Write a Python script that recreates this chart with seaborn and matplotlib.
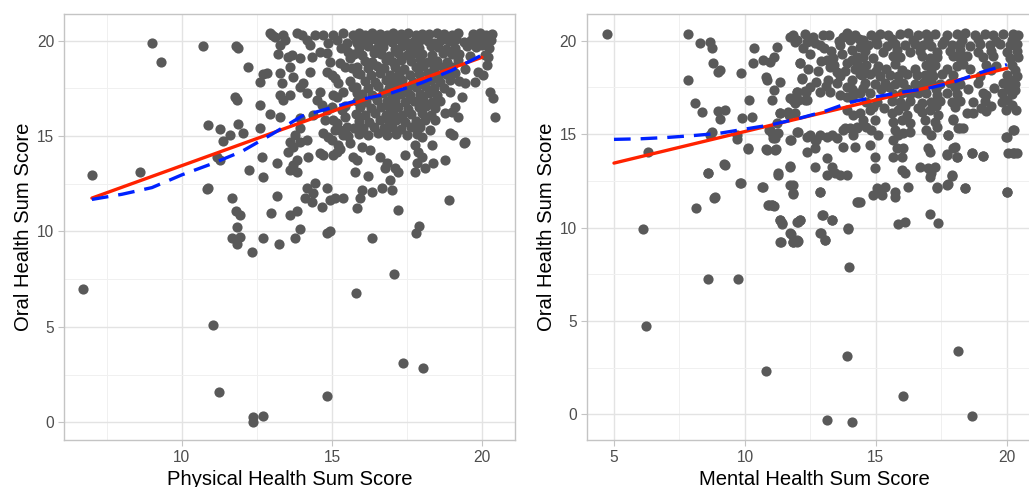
import matplotlib
matplotlib.use("Agg")
import matplotlib.pyplot as plt
import pandas as pd
import seaborn as sns

# ---------------- Physical health vs oral health ----------------
phys_sparse_x = [
    6.7, 7.0, 8.6, 9.0, 9.3, 10.71, 10.82, 10.86, 10.88, 11.05, 11.25, 11.16, 11.27, 11.27, 11.38, 11.6, 11.66, 11.66, 11.8, 11.86,
    11.77, 11.82, 11.88, 11.8, 11.93, 11.84, 11.93, 11.82, 12.04, 12.21, 12.24, 12.34, 12.38, 12.38, 12.71, 12.6, 12.6, 12.6, 12.66, 12.71,
    12.71, 12.82, 12.71, 12.93, 12.97, 13.16, 13.16, 13.23, 13.27, 14.82, 15.8, 17.08, 17.37, 18.02, 17.91, 17.8, 18.9, 19.41, 20.43, 16.33,
    17.2, 15.82, 15.93, 15.99, 16.32, 16.66, 16.99, 16.93,
]
phys_sparse_y = [
    7.0, 12.95, 13.1, 19.9, 18.9, 19.72, 12.21, 12.3, 15.58, 5.1, 1.6, 13.92, 13.75, 15.37, 14.76, 15.06, 11.74, 9.64, 19.72, 19.62,
    17.07, 16.89, 15.61, 11.07, 10.86, 10.22, 9.73, 9.35, 15.14, 18.64, 13.22, 8.94, 0.29, 0.03, 0.33, 17.85, 16.63, 15.41, 13.92, 12.87,
    9.64, 18.29, 18.24, 16.14, 10.99, 13.61, 11.88, 9.33, 16.02, 1.38, 6.76, 7.77, 3.12, 2.83, 10.29, 9.9, 11.65, 14.66, 16.02, 9.64,
    11.12, 11.21, 11.74, 12.18, 12.09, 12.26, 12.18, 12.7,
]

phys_mid_x = [
    13.77, 13.93, 14.82, 14.93, 13.6, 13.82, 14.1, 14.32, 14.16, 14.43, 14.38, 14.66, 14.82, 14.93, 15.1, 15.36,
    13.54, 13.71, 13.82, 13.71, 13.82, 13.6, 14.21, 14.6, 14.71, 15.04, 15.16, 15.27, 15.71, 15.77, 15.6,
    13.77, 13.93, 14.16, 13.6, 13.93, 14.38, 14.71, 14.88, 14.99, 15.1, 15.27, 15.16, 15.38, 15.21, 14.77, 15.04, 13.93,
    13.6, 13.27, 13.38, 13.32, 13.27, 13.6, 13.71, 13.93, 14.04, 14.16, 14.27,
    13.21, 13.54, 13.66, 13.93, 14.32,
    12.93, 13.1, 13.27, 13.38, 13.82, 13.99, 14.16, 14.27, 14.71, 14.88, 15.04, 15.38, 15.71, 15.82, 12.99, 13.43, 14.43, 15.49, 15.16,
    14.6, 14.82, 14.93, 15.27, 15.6, 14.82, 14.99, 15.1, 15.21, 15.38, 15.04, 15.16, 15.32, 14.6, 14.49, 14.66, 14.82, 14.99, 15.66, 15.82, 15.71, 15.82,
    15.45, 15.5, 15.6, 15.45, 15.55, 15.3, 15.45, 15.55,
]
phys_mid_y = [
    9.64, 10.13, 9.9, 10.0, 10.86, 11.09, 11.74, 11.56, 12.26, 12.52, 12.0, 11.3, 12.26, 11.65, 11.74, 11.74,
    14.18, 14.45, 13.75, 13.49, 13.14, 13.22, 13.92, 14.1, 14.01, 14.01, 14.18, 14.31, 13.92, 13.14, 14.62,
    15.06, 14.71, 14.8, 14.71, 15.41, 16.1, 15.15, 14.97, 14.8, 15.32, 15.32, 15.67, 15.06, 14.53, 15.84, 15.84, 15.97,
    17.15, 17.15, 16.89, 17.77, 18.29, 18.64, 18.11, 17.59, 17.77, 17.24, 18.38,
    19.29, 19.16, 19.25, 19.08, 19.16,
    20.39, 20.21, 19.78, 20.3, 20.39, 20.3, 20.04, 19.78, 20.3, 19.86, 20.3, 20.39, 20.3, 19.86, 20.3, 20.04, 20.3, 19.86, 20.04,
    19.43, 19.34, 18.9, 18.81, 19.08, 18.38, 18.2, 18.03, 17.77, 17.33, 17.15, 17.03, 16.37, 17.33, 16.89, 16.63, 16.37, 16.54, 18.55, 18.29, 17.59, 17.24,
    16.6, 15.5, 17.9, 18.6, 19.4, 19.6, 16.0, 15.0,
]

phys_dense_x = [
    15.9, 16.1, 16.35, 16.6, 16.85, 17.05, 17.3, 17.55, 17.8, 18.0, 18.25, 18.5, 18.75, 19.0, 19.2, 19.7, 19.95, 20.15, 20.35,
    15.8, 16.05, 16.3, 16.55, 16.8, 17.0, 17.2, 17.45, 17.7, 17.95, 18.2, 18.4, 18.65, 18.9, 19.15, 19.4, 19.65, 19.9, 20.1, 20.3,
    15.9, 16.2, 16.5, 16.7, 17.1, 17.35, 17.6, 17.9, 18.3, 18.55, 18.8, 19.1, 19.5, 19.8, 20.0, 20.25,
    15.75, 16.0, 16.4, 16.65, 16.9, 17.2, 17.5, 17.75, 18.0, 18.35, 18.7, 19.0, 19.25, 19.6, 20.1,
    16.1, 16.35, 16.8, 17.05, 17.3, 17.65, 17.95, 18.2, 18.5, 18.85, 19.2,
    15.85, 16.2, 16.5, 16.75, 17.1, 17.4, 17.8, 18.05, 18.4, 18.7, 19.0, 19.45,
    15.95, 16.3, 16.6, 16.95, 17.25, 17.6, 17.9, 18.2, 18.55, 18.8, 19.1,
    16.1, 16.45, 16.8, 17.05, 17.35, 17.7, 18.0, 18.3, 18.6, 18.95, 19.25,
    15.8, 16.2, 16.55, 16.9, 17.15, 17.5, 17.8, 18.1, 18.4, 18.75,
    16.0, 16.35, 16.7, 17.0, 17.3, 17.6, 17.95, 18.25, 18.5,
    15.85, 16.15, 16.5, 16.85, 17.1, 17.45, 17.75, 18.05, 18.35, 18.6,
    15.95, 16.3, 16.65, 16.95, 17.2, 17.55, 17.9, 18.15, 18.45,
    15.8, 16.1, 16.45, 16.8, 17.05, 17.35, 17.65, 18.0, 18.3,
    15.9, 16.25, 16.6, 16.9, 17.15, 17.45, 17.8, 18.1,
    15.75, 16.05, 16.4, 16.75, 17.0, 17.3, 17.65, 17.95,
    15.9, 16.2, 16.55, 16.85, 17.15, 17.5, 17.85,
]
phys_dense_y = [
    20.38, 20.32, 20.4, 20.35, 20.3, 20.38, 20.34, 20.4, 20.31, 20.37, 20.33, 20.4, 20.36, 20.3, 20.39, 20.35, 20.4, 20.32, 20.37,
    20.02, 19.95, 20.08, 19.98, 20.05, 19.92, 20.1, 20.0, 19.94, 20.06, 20.0, 19.9, 20.04, 19.97, 20.08, 19.93, 20.02, 20.1, 19.96, 20.05,
    19.6, 19.7, 19.62, 19.68, 19.58, 19.72, 19.64, 19.6, 19.7, 19.66, 19.58, 19.62, 19.7, 19.65, 19.75, 19.6,
    19.3, 19.25, 19.35, 19.28, 19.22, 19.33, 19.26, 19.38, 19.3, 19.24, 19.35, 19.28, 19.32, 19.2, 19.25,
    18.95, 18.9, 19.0, 18.88, 18.98, 18.92, 19.02, 18.9, 18.96, 18.9, 19.0,
    18.6, 18.55, 18.65, 18.58, 18.62, 18.52, 18.6, 18.66, 18.55, 18.6, 18.64, 18.5,
    18.25, 18.2, 18.3, 18.22, 18.28, 18.18, 18.26, 18.3, 18.2, 18.24, 18.3,
    17.9, 17.85, 17.95, 17.88, 17.92, 17.84, 17.9, 17.96, 17.86, 17.92, 17.88,
    17.55, 17.5, 17.6, 17.52, 17.58, 17.48, 17.56, 17.6, 17.5, 17.54,
    17.2, 17.15, 17.25, 17.18, 17.22, 17.14, 17.2, 17.26, 17.16,
    16.85, 16.8, 16.9, 16.82, 16.88, 16.78, 16.86, 16.9, 16.8, 16.84,
    16.5, 16.45, 16.55, 16.48, 16.52, 16.44, 16.5, 16.56, 16.46,
    16.15, 16.1, 16.2, 16.12, 16.18, 16.08, 16.16, 16.2, 16.1,
    15.8, 15.75, 15.85, 15.78, 15.82, 15.74, 15.8, 15.86,
    15.45, 15.4, 15.5, 15.42, 15.48, 15.38, 15.46, 15.5,
    15.1, 15.05, 15.15, 15.08, 15.12, 15.04, 15.1,
]

phys_edge_x = [
    20.21, 20.16, 19.88, 20.04, 19.77, 20.27, 20.38, 19.43, 19.32, 18.93, 19.1, 18.77, 18.99, 19.21, 19.43, 18.93, 19.04, 18.77, 18.38,
    15.99, 16.27, 16.6, 16.82, 16.77, 17.1, 17.21, 17.43, 17.77, 17.88, 17.99, 17.82, 18.1, 17.77, 18.32, 15.82, 16.21,
    18.43, 18.27, 17.99,
]
phys_edge_y = [
    19.16, 18.73, 18.38, 18.2, 17.85, 17.33, 16.98, 17.77, 17.07, 17.33, 16.54, 16.19, 16.28, 16.02, 14.71, 15.15, 15.06, 13.75, 13.57,
    14.45, 14.27, 13.92, 13.57, 13.31, 13.31, 13.14, 14.01, 14.53, 14.18, 13.92, 13.57, 13.31, 13.14, 14.53, 13.75, 12.9,
    15.84, 15.32, 14.97,
]

# fitted lines (linear fit and loess smooth)
phys_lm_x = [7, 20]
phys_lm_y = [11.75, 19.13]
phys_loess_x = [7, 8, 9, 10, 11, 12, 13, 14, 15, 16, 17, 18, 19, 20]
phys_loess_y = [11.68, 11.95, 12.3, 12.97, 13.55, 14.2, 15.1, 16.05, 16.5, 16.93, 17.27, 17.8, 18.45, 19.25]

# ---------------- Mental health vs oral health ----------------
ment_sparse_x = [
    4.74, 7.81, 8.28, 8.66, 8.73, 8.78, 8.97, 9.04, 7.84, 8.1, 8.35, 8.97, 9.22, 9.04, 8.73, 8.66, 6.31, 8.6, 9.2, 8.82,
    8.14, 6.1, 6.21, 8.6, 9.72, 10.8, 13.12, 14.07, 13.9, 13.96, 16.04, 18.14, 18.65, 9.84, 9.88, 10.26, 9.69, 9.69, 10.13, 9.85,
    10.17, 10.35, 10.32, 10.7, 10.8, 10.83, 10.7, 10.96, 11.09, 11.22, 10.9, 11.03, 11.1, 10.8, 11.2, 10.9, 11.03, 11.16, 11.09, 11.03,
    11.28, 11.35, 11.35, 11.35, 11.41, 11.37, 11.73, 11.76, 11.85, 11.85, 11.76, 11.85, 11.98, 12.04, 12.04, 12.1, 11.85, 11.98, 12.1, 12.17,
    11.98, 12.3, 11.85, 12.04, 12.3, 11.69, 11.92, 12.04, 12.86, 12.95, 13.31, 12.9, 13.05, 13.94, 14.3, 15.86, 16.11, 17.06, 17.38, 20.02,
    17.32, 17.74, 18.4, 17.89, 18.65, 19.1, 17.72, 18.1, 18.0, 17.76, 18.14, 18.33, 17.95, 18.71, 19.22, 19.41, 19.98, 20.26, 20.03, 20.29,
]
ment_sparse_y = [
    20.34, 20.34, 19.86, 19.95, 19.63, 18.82, 18.34, 18.43, 17.9, 16.65, 16.2, 16.26, 16.3, 15.82, 15.13, 14.95, 14.06, 12.9, 13.38, 11.6,
    11.06, 9.9, 4.73, 7.23, 7.23, 2.33, -0.31, -0.39, 3.14, 7.87, 1.0, 3.39, -0.07, 18.25, 15.85, 15.9, 14.96, 14.74, 14.2, 12.37,
    16.83, 19.63, 18.79, 12.18, 18.07, 17.9, 18.97, 18.88, 19.14, 19.68, 11.2, 11.2, 11.15, 14.2, 14.2, 15.22, 15.04, 14.78, 17.36, 16.83,
    12.9, 17.8, 16.11, 10.4, 10.19, 9.24, 13.29, 14.68, 12.28, 11.79, 9.67, 9.24, 9.24, 9.3, 10.31, 10.4, 20.21, 20.04, 18.79, 17.97,
    17.27, 17.32, 16.83, 16.83, 16.83, 16.02, 16.11, 15.13, 11.92, 10.67, 10.4, 9.69, 9.33, 9.92, 11.38, 10.19, 10.31, 10.71, 10.22, 11.88,
    12.13, 12.31, 12.1, 12.77, 13.97, 13.84, 13.93, 13.75, 14.3, 14.95, 15.32, 15.32, 15.83, 16.13, 16.22, 16.49, 14.86, 15.22, 13.97, 13.97,
]

ment_mid_x = [
    11.72, 11.84, 11.91, 12.35, 12.61, 12.67, 12.99, 12.86, 13.12, 13.37, 13.63, 13.75, 13.88, 14.01, 14.2, 14.39, 14.26, 14.07, 13.88, 12.1,
    12.16, 12.48, 12.73, 12.86, 13.24, 13.18, 13.5, 11.72, 12.03, 12.35, 11.97, 12.33, 11.33, 10.95, 11.27, 11.08, 11.72, 11.97, 12.35, 12.48,
    12.67, 12.86, 13.12, 13.31, 13.5, 13.75, 14.01, 14.13, 14.26, 14.52, 11.21, 12.35, 12.67, 12.73, 13.12, 13.31, 13.12, 13.43, 13.63, 13.88,
    12.67, 13.75, 14.2, 11.72, 11.27, 10.64, 9.81, 9.24, 8.6, 8.85, 11.72, 11.84, 12.86, 14.26, 10.89, 11.02, 11.33, 11.4, 11.97, 12.1,
    12.99, 13.31, 13.94, 11.33, 11.72, 11.84, 11.97, 12.86, 13.05, 10.13, 10.83, 11.14, 11.65, 11.91, 13.63, 13.88, 14.07, 14.26, 13.88, 14.13,
    14.39, 13.82, 14.26, 13.24, 13.5, 13.63, 13.82, 14.07, 14.2, 14.39, 13.0, 13.3,
    12.5, 12.9, 13.4, 13.7, 14.1, 12.8, 13.9, 14.3, 12.4, 13.1, 12.2, 13.6, 13.2, 12.3, 14.35, 14.1,
]
ment_mid_y = [
    20.22, 20.3, 19.95, 19.95, 20.22, 19.86, 20.3, 19.77, 18.97, 19.06, 19.77, 20.22, 20.39, 20.04, 20.3, 19.68, 19.14, 18.97, 18.79, 18.79,
    17.99, 17.54, 17.81, 17.27, 17.27, 17.9, 17.72, 16.91, 16.83, 16.83, 17.27, 17.27, 16.11, 15.22, 15.04, 14.77, 14.68, 15.13, 14.86, 14.95,
    14.68, 14.95, 14.86, 14.95, 14.77, 15.22, 15.31, 14.95, 15.4, 15.75, 15.58, 14.06, 14.24, 14.68, 13.7, 13.26, 12.81, 12.9, 12.81, 12.81,
    13.26, 14.33, 14.33, 13.26, 12.81, 12.19, 12.36, 13.35, 12.9, 11.65, 12.28, 11.83, 11.92, 11.38, 11.2, 11.2, 10.4, 10.22, 10.31, 10.4,
    10.67, 10.4, 9.96, 9.24, 9.69, 9.24, 9.33, 9.69, 9.33, 14.24, 14.15, 14.15, 16.2, 16.65, 17.09, 17.0, 16.91, 17.18, 16.29, 16.02,
    16.11, 15.31, 15.31, 18.6, 18.3, 18.1, 18.4, 17.9, 18.5, 18.2, 19.6, 19.45,
    19.3, 18.9, 18.7, 19.3, 19.5, 18.4, 17.5, 18.7, 18.5, 17.6, 19.6, 20.0, 20.3, 20.35, 20.1, 17.4,
]

ment_right_x = [
    14.77, 14.96, 15.66, 15.79, 16.04, 15.66, 15.98, 17.0, 17.06, 17.7, 17.95, 18.08, 18.65, 19.1, 19.99, 20.24, 20.24, 20.37,
    14.96, 15.98, 16.11, 16.68, 17.0, 17.12, 17.06, 17.25, 17.89, 14.9, 15.03, 15.22, 15.34, 15.72, 15.72, 16.23, 17.32, 17.7, 18.4, 19.99, 14.39,
    14.77, 14.96, 14.83, 15.09, 14.64, 15.6, 15.85, 16.17, 15.66, 15.98, 16.3, 15.72, 16.04, 16.3, 15.85, 16.74, 17.06, 17.38, 16.87, 17.25,
    16.93, 17.12, 17.32, 17.95, 18.21, 17.76, 18.46,
    20.1, 20.3, 20.0, 20.2, 20.35, 19.95,
]
ment_right_y = [
    14.4, 13.79, 14.68, 14.24, 14.24, 13.79, 13.79, 14.24, 14.06, 13.88, 14.24, 13.79, 13.97, 13.83, 14.86, 15.22, 13.97, 13.97,
    13.17, 13.08, 12.9, 13.26, 13.17, 12.9, 12.72, 13.26, 12.81, 11.74, 12.1, 11.74, 12.19, 11.92, 11.65, 12.19, 12.19, 12.27, 12.1, 11.92, 11.38,
    16.29, 15.75, 15.22, 14.95, 15.4, 16.11, 16.29, 16.02, 15.66, 15.75, 15.58, 15.22, 15.04, 15.13, 14.95, 16.2, 16.29, 16.02, 15.75, 15.66,
    15.22, 14.95, 15.4, 15.75, 15.31, 14.95, 16.11,
    17.9, 17.36, 16.83, 16.56, 16.3, 16.3,
]

ment_dense_x = [
    14.52, 14.9, 15.66, 15.92, 16.74, 17.06, 17.32, 17.95, 18.21, 18.46, 19.1, 19.48, 20.11, 20.43,
    14.64, 15.09, 15.72, 16.93, 17.25, 18.08, 18.33, 19.22, 19.6, 20.18,
    14.45, 14.77, 15.15, 15.53, 15.85, 16.17, 16.55, 16.87, 17.19, 17.51, 17.95, 18.97, 19.99, 20.37,
    14.58, 14.96, 15.34, 15.72, 16.04, 16.49, 16.81, 17.12, 17.44, 17.82, 18.21, 18.91, 19.86, 20.3,
    14.39, 14.77, 15.66, 15.98, 16.3, 16.61, 16.93, 17.32, 17.7, 18.08, 19.1, 19.22, 19.8, 20.18,
    14.64, 15.03, 15.6, 15.92, 16.3, 16.74, 17.12, 17.44, 17.89, 18.21, 18.72, 19.16, 19.8,
    14.83, 15.15, 15.47, 15.92, 16.23, 16.61, 16.93, 17.25, 17.7, 18.08, 18.4, 18.78, 19.16, 19.48, 19.86, 20.24, 20.42,
    14.71, 15.03, 15.41, 15.72, 16.11, 16.49, 16.81, 17.12, 17.51, 17.89, 18.21, 18.59, 18.97, 19.35, 19.73, 20.11, 20.4,
    14.58, 15.28, 15.79, 16.3, 16.68, 17.32, 17.82, 18.21, 18.91, 19.41, 19.99, 20.37,
    14.5, 15.0, 15.6, 16.4, 17.0, 17.6, 18.3, 18.9, 19.6, 20.2,
    14.5, 15.0, 15.4, 16.0, 16.5, 17.1, 17.7, 18.6, 19.4, 20.3,
    14.5, 15.2, 15.5, 16.2, 16.7, 17.3, 18.0, 18.5, 19.5, 20.05,
    14.9, 15.3, 16.1, 16.6, 17.3, 18.0, 19.0,
]
ment_dense_y = [
    19.14, 19.1, 19.2, 19.12, 19.18, 19.08, 19.15, 19.2, 19.1, 19.16, 19.12, 19.18, 19.1, 19.15,
    18.7, 18.66, 18.74, 18.68, 18.72, 18.65, 18.75, 18.7, 18.66, 18.72,
    18.16, 18.2, 18.12, 18.18, 18.1, 18.2, 18.14, 18.18, 18.12, 18.2, 18.15, 18.1, 18.18, 18.12,
    17.72, 17.68, 17.76, 17.7, 17.74, 17.66, 17.72, 17.78, 17.7, 17.74, 17.68, 17.72, 17.76, 17.7,
    17.18, 17.22, 17.14, 17.2, 17.16, 17.22, 17.18, 17.12, 17.2, 17.16, 17.22, 17.1, 17.18, 17.14,
    16.74, 16.7, 16.78, 16.72, 16.76, 16.68, 16.74, 16.8, 16.7, 16.76, 16.72, 16.78, 16.7,
    20.3, 20.36, 20.28, 20.34, 20.4, 20.3, 20.35, 20.38, 20.3, 20.34, 20.4, 20.32, 20.36, 20.3, 20.38, 20.34, 20.3,
    19.77, 19.82, 19.74, 19.8, 19.76, 19.84, 19.78, 19.72, 19.8, 19.76, 19.82, 19.74, 19.8, 19.76, 19.84, 19.78, 19.8,
    19.45, 19.4, 19.48, 19.42, 19.46, 19.38, 19.44, 19.48, 19.4, 19.46, 19.42, 19.45,
    20.05, 20.0, 20.08, 20.02, 20.06, 19.98, 20.04, 20.08, 20.0, 20.06,
    18.45, 18.4, 18.5, 18.42, 18.48, 18.4, 18.46, 18.5, 18.42, 18.45,
    17.45, 17.42, 17.5, 17.4, 17.48, 17.44, 17.5, 17.42, 17.46, 17.4,
    16.45, 16.4, 16.5, 16.42, 16.48, 16.44, 16.4,
]

ment_lm_x = [5, 20]
ment_lm_y = [13.45, 18.52]
ment_loess_x = [5, 6, 7, 8, 9, 10, 11, 12, 13, 14, 15, 16, 17, 18, 19, 20]
ment_loess_y = [14.72, 14.75, 14.82, 14.92, 15.04, 15.27, 15.5, 15.82, 16.2, 16.7, 17.0, 17.25, 17.45, 17.8, 18.3, 18.72]

# ---------------- styling ----------------
POINT = "#595959"
RED = "#FF2200"
BLUE = "#0022FF"

sns.set_theme(style="whitegrid")
plt.rcParams["font.family"] = ["Liberation Sans", "DejaVu Sans"]


def draw_panel(ax, xs, ys, lm_x, lm_y, lo_x, lo_y, xlim, ylim, xticks, xminor, xlabel):
    pts = pd.DataFrame({"x": xs, "y": ys})
    sns.scatterplot(data=pts, x="x", y="y", ax=ax, color=POINT, s=54,
                    linewidth=0, zorder=3)
    sns.lineplot(x=lm_x, y=lm_y, ax=ax, color=RED, linewidth=2.4, zorder=4)
    sns.lineplot(x=lo_x, y=lo_y, ax=ax, color=BLUE, linewidth=2.4, zorder=5,
                 linestyle=(0, (5.0, 3.0)))

    ax.set_xlim(*xlim)
    ax.set_ylim(*ylim)
    ax.set_xticks(xticks)
    ax.set_xticks(xminor, minor=True)
    ax.set_yticks([0, 5, 10, 15, 20])
    ax.set_yticks([2.5, 7.5, 12.5, 17.5], minor=True)

    ax.set_axisbelow(True)
    ax.grid(which="major", color="#E3E3E3", linewidth=1.0)
    ax.grid(which="minor", color="#F0F0F0", linewidth=0.7)
    for sp in ax.spines.values():
        sp.set_visible(True)
        sp.set_color("#C4C4C4")
        sp.set_linewidth(1.0)

    ax.tick_params(axis="both", which="major", labelsize=11.2, labelcolor="#4D4D4D",
                   color="#C4C4C4", length=4, width=0.8, pad=3.2, bottom=True, left=True)
    ax.tick_params(axis="both", which="minor", length=0)
    ax.set_xlabel(xlabel, fontsize=14.6, color="black", labelpad=3.5)
    ax.set_ylabel("Oral Health Sum Score", fontsize=14.6, color="black", labelpad=3.0)


fig = plt.figure(figsize=(10.29, 4.87), dpi=100)
ax1 = fig.add_axes([64 / 1029, 47 / 487, 451 / 1029, 426 / 487])
ax2 = fig.add_axes([587 / 1029, 47 / 487, 455 / 1029, 426 / 487])

draw_panel(
    ax1,
    phys_sparse_x + phys_mid_x + phys_dense_x + phys_edge_x,
    phys_sparse_y + phys_mid_y + phys_dense_y + phys_edge_y,
    phys_lm_x, phys_lm_y, phys_loess_x, phys_loess_y,
    (6.07, 21.1), (-0.93, 21.4), [10, 15, 20], [7.5, 12.5, 17.5],
    "Physical Health Sum Score",
)
draw_panel(
    ax2,
    ment_sparse_x + ment_mid_x + ment_right_x + ment_dense_x,
    ment_sparse_y + ment_mid_y + ment_right_y + ment_dense_y,
    ment_lm_x, ment_lm_y, ment_loess_x, ment_loess_y,
    (3.97, 21.34), (-1.37, 21.43), [5, 10, 15, 20], [7.5, 12.5, 17.5],
    "Mental Health Sum Score",
)

fig.savefig("out.png", dpi=100)
